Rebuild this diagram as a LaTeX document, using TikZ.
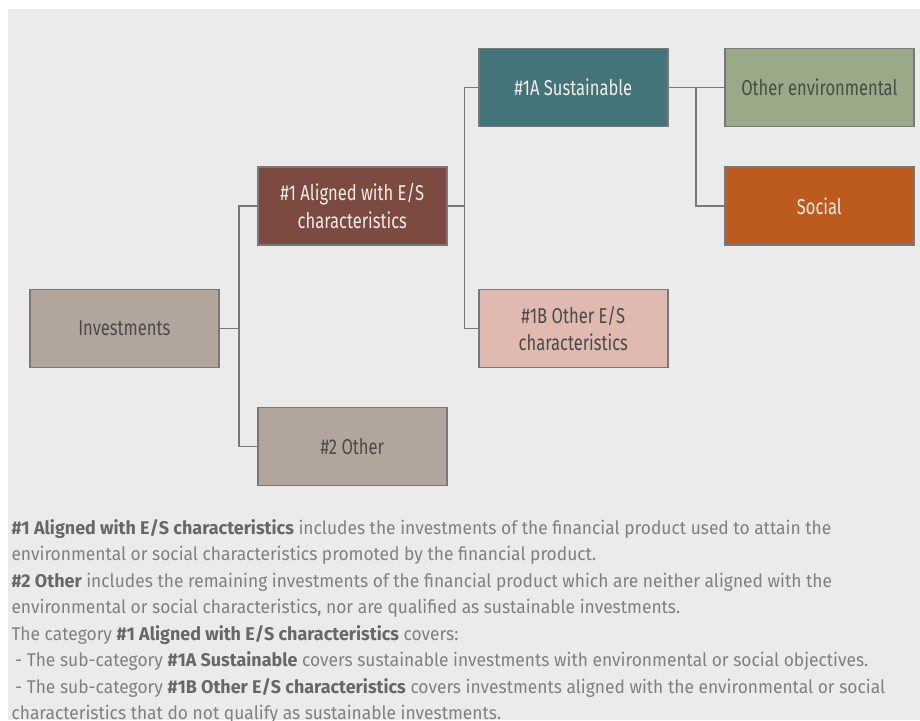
\documentclass[tikz,border=0pt]{standalone}
\usepackage{fontspec}
\setmainfont{Fira Sans}[FakeStretch=0.77]
\newfontfamily\parafont{Fira Sans}[FakeStretch=0.945, BoldFeatures={FakeStretch=0.975}]
\definecolor{bggray}{HTML}{EBEBEB}
\definecolor{linegray}{HTML}{787878}
\definecolor{invfill}{HTML}{B2A69C}
\definecolor{alfill}{HTML}{7C4A40}
\definecolor{susfill}{HTML}{43747A}
\definecolor{envfill}{HTML}{9AAA88}
\definecolor{socfill}{HTML}{BD5A1E}
\definecolor{obfill}{HTML}{E0B9B0}
\definecolor{lighttext}{HTML}{F2EDE8}
\definecolor{darktext}{HTML}{4A4A48}
\definecolor{paratext}{HTML}{808080}
\definecolor{parabold}{HTML}{676767}
\tikzset{
  box/.style={draw=linegray, line width=1.6pt, minimum width=189pt, minimum height=78pt,
    inner sep=0pt, align=center, font=\fontsize{21.5}{27.3}\selectfont},
  lightbox/.style={box, text=lighttext},
  darkbox/.style={box, text=darktext},
  conn/.style={draw=linegray, line width=1.6pt},
  para/.style={anchor=base west, inner sep=0pt, text=paratext, font=\parafont\fontsize{18.4}{26.5}\selectfont}
}
\newcommand{\pb}[1]{{\bfseries\color{parabold}#1}}
\begin{document}
\begin{tikzpicture}[x=1pt,y=-1pt]
\useasboundingbox (0,0) rectangle (920,720);
\clip (0,0) rectangle (920,720);
\fill[white] (0,0) rectangle (920,720);
\fill[bggray] (8,8.7) rectangle (920,720);

\node[darkbox, fill=invfill] (inv) at (124.3,328.3) {Investments};
\node[lightbox, fill=alfill] (al) at (352.3,206) {\#1 Aligned with E/S\\characteristics};
\node[darkbox, fill=invfill] (oth) at (352.3,446.3) {\#2 Other};
\node[lightbox, fill=susfill] (sus) at (573.3,87.6) {\#1A Sustainable};
\node[darkbox, fill=obfill] (ob) at (573.3,328.3) {\#1B Other E/S\\characteristics};
\node[darkbox, fill=envfill] (env) at (819.3,87.6) {Other environmental};
\node[lightbox, fill=socfill] (soc) at (819.3,206) {Social};

\coordinate (j1) at (239,328.3);
\coordinate (j2) at (464.6,206);
\coordinate (j3) at (696,87.6);
\draw[conn] (inv.east) -- (j1);
\draw[conn] (al.west) -| (j1) |- (oth.west);
\draw[conn] (al.east) -- (j2);
\draw[conn] (sus.west) -| (j2) |- (ob.west);
\draw[conn] (sus.east) -- (env.west);
\draw[conn] (j3) |- (soc.west);

\node[para] (p1) at (11.3,534.3) {\pb{\#1 Aligned with E/S characteristics} includes the investments of the financial product used to attain the};
\node[para] (p2) at (11.3,560.8) {environmental or social characteristics promoted by the financial product.};
\node[para] (p3) at (11.3,587.3) {\pb{\#2 Other} includes the remaining investments of the financial product which are neither aligned with the};
\node[para] (p4) at (11.3,613.8) {environmental or social characteristics, nor are qualified as sustainable investments.};
\node[para] (p5) at (11.3,640.3) {The category \pb{\#1 Aligned with E/S characteristics} covers:};
\node[para] (p6) at (15,666.8) {- The sub-category \pb{\#1A Sustainable} covers sustainable investments with environmental or social objectives.};
\node[para] (p7) at (15,693.3) {- The sub-category \pb{\#1B Other E/S characteristics} covers investments aligned with the environmental or social};
\node[para] (p8) at (11.3,719.8) {characteristics that do not qualify as sustainable investments.};
\end{tikzpicture}
\end{document}
